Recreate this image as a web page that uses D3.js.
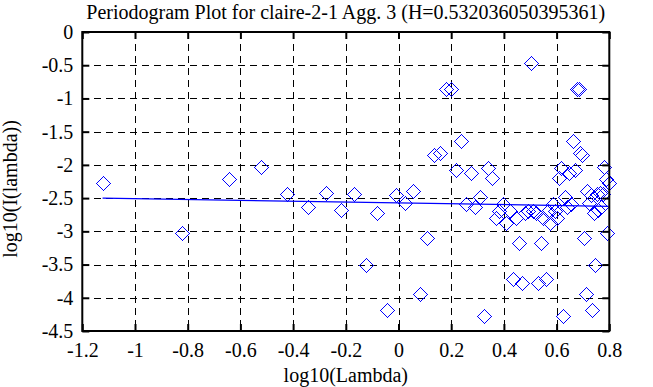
<!DOCTYPE html>
<html>
<head>
<meta charset="utf-8">
<script src="https://cdn.jsdelivr.net/npm/d3@7"></script>
<style>
  body { margin: 0; background: #fff; }
  svg text { font-family: "Liberation Serif", "DejaVu Serif", serif !important; fill: #000; }
</style>
</head>
<body>
<div id="chart"></div>
<script>
// --- data: log10 frequency vs log10 periodogram ---
const lambdaLog = [
  -1.123, -0.821, -0.645, -0.520, -0.424, -0.344, -0.277, -0.219, -0.168, -0.123,
  -0.081, -0.043, -0.009, 0.024, 0.054, 0.082, 0.108, 0.133, 0.156, 0.179,
  0.200, 0.220, 0.239, 0.258, 0.275, 0.292, 0.309, 0.325, 0.340, 0.355,
  0.369, 0.383, 0.396, 0.409, 0.422, 0.434, 0.446, 0.457, 0.469, 0.480,
  0.490, 0.501, 0.511, 0.521, 0.531, 0.540, 0.550, 0.559, 0.568, 0.576,
  0.585, 0.594, 0.602, 0.610, 0.618, 0.626, 0.633, 0.641, 0.648, 0.656,
  0.663, 0.670, 0.677, 0.684, 0.690, 0.697, 0.704, 0.710, 0.716, 0.723,
  0.729, 0.735, 0.741, 0.747, 0.753, 0.758, 0.764, 0.770, 0.775, 0.781,
  0.786, 0.791, 0.797
];
const periodLog = [
  -2.275, -3.02, -2.21, -2.03, -2.44, -2.63, -2.43, -2.68, -2.44, -3.50,
  -2.72, -4.18, -2.45, -2.57, -2.39, -3.94, -3.10, -1.85, -1.82, -0.86,
  -0.86, -2.07, -1.64, -2.59, -2.12, -2.64, -2.48, -4.28, -2.05, -2.20,
  -2.80, -2.70, -2.59, -2.88, -2.70, -3.72, -2.80, -3.18, -3.78, -2.72,
  -2.70, -0.47, -2.70, -2.72, -3.78, -3.18, -2.80, -3.72, -2.70, -2.88,
  -2.59, -2.70, -2.80, -2.20, -2.05, -4.28, -2.48, -2.64, -2.12, -2.59,
  -1.64, -2.07, -0.86, -0.86, -1.82, -1.85, -3.10, -3.94, -2.39, -2.57,
  -2.45, -4.18, -2.72, -3.50, -2.44, -2.68, -2.43, -2.63, -2.44, -2.03,
  -2.21, -3.02, -2.275
];
// least-squares fit drawn as a line between its two ends
const fitLambda = [-1.123, 0.797];
const fitPeriod = [-2.500, -2.623];

const xTicks = [-1.2, -1, -0.8, -0.6, -0.4, -0.2, 0, 0.2, 0.4, 0.6, 0.8];
const yTicks = [0, -0.5, -1, -1.5, -2, -2.5, -3, -3.5, -4, -4.5];

const titleText = "Periodogram Plot for claire-2-1 Agg. 3 (H=0.532036050395361)";
const xLabel = "log10(Lambda)";
const yLabel = "log10(I(lambda))";

// --- layout ---
const width = 653, height = 387;
const plot = { left: 82.3, right: 609.3, top: 32, bottom: 331 };
const blue = "#0000ff";
const serif = '"Liberation Serif", "DejaVu Serif", serif';

const svg = d3.select("#chart").append("svg")
  .attr("width", width).attr("height", height)
  .attr("viewBox", `0 0 ${width} ${height}`);

const x = d3.scaleLinear().domain([-1.2, 0.8]).range([plot.left, plot.right]);
const y = d3.scaleLinear().domain([-4.5, 0]).range([plot.bottom, plot.top]);

// dashed grid
const grid = svg.append("g").attr("class", "grid");
grid.selectAll("line.gx").data(xTicks.slice(1, -1)).join("line")
  .attr("x1", d => Math.round(x(d)) + 0.5).attr("x2", d => Math.round(x(d)) + 0.5)
  .attr("y1", plot.top).attr("y2", plot.bottom);
grid.selectAll("line.gy").data(yTicks.slice(1, -1)).join("line")
  .attr("y1", d => Math.round(y(d)) + 0.5).attr("y2", d => Math.round(y(d)) + 0.5)
  .attr("x1", plot.left).attr("x2", plot.right);
grid.selectAll("line")
  .attr("stroke", "#000").attr("stroke-width", 1)
  .attr("stroke-dasharray", "7,5").attr("shape-rendering", "crispEdges");

// fit line
svg.append("line")
  .attr("x1", x(fitLambda[0])).attr("y1", y(fitPeriod[0]))
  .attr("x2", x(fitLambda[1])).attr("y2", y(fitPeriod[1]))
  .attr("stroke", blue).attr("stroke-width", 1.3);

// diamonds
const r = 7;
svg.append("g").selectAll("path").data(lambdaLog).join("path")
  .attr("transform", (d, i) => `translate(${Math.round(x(d)) + 0.5},${Math.round(y(periodLog[i])) + 0.5})`)
  .attr("d", `M0,${-r}L${r},0L0,${r}L${-r},0Z`)
  .attr("fill", "none").attr("stroke", blue).attr("stroke-width", 1)
  .attr("shape-rendering", "crispEdges");

// inward ticks on all four sides
const tk = 7;
const axisStyle = g => {
  g.attr("font-family", serif).attr("font-size", 20);
  g.select(".domain").remove();
  g.selectAll(".tick line").attr("stroke", "#000").attr("stroke-width", 2);
  g.selectAll(".tick text").style("font-family", serif).style("font-size", "20px");
};
svg.append("g").attr("transform", `translate(0,${plot.bottom})`)
  .call(d3.axisBottom(x).tickValues(xTicks).tickSize(-tk).tickFormat(d => String(d)))
  .call(axisStyle)
  .call(g => g.selectAll("text").attr("dy", "0.71em").attr("y", 12));
svg.append("g").attr("transform", `translate(0,${plot.top})`)
  .call(d3.axisTop(x).tickValues(xTicks).tickSize(-tk).tickFormat(""))
  .call(axisStyle);
svg.append("g").attr("transform", `translate(${plot.left},0)`)
  .call(d3.axisLeft(y).tickValues(yTicks).tickSize(-tk).tickFormat(d => String(d)))
  .call(axisStyle)
  .call(g => g.selectAll("text").attr("x", -9));
svg.append("g").attr("transform", `translate(${plot.right},0)`)
  .call(d3.axisRight(y).tickValues(yTicks).tickSize(-tk).tickFormat(""))
  .call(axisStyle);

// frame
svg.append("rect")
  .attr("x", plot.left).attr("y", plot.top)
  .attr("width", plot.right - plot.left).attr("height", plot.bottom - plot.top)
  .attr("fill", "none").attr("stroke", "#000").attr("stroke-width", 2);

// titles
const label = (t) => svg.append("text")
  .attr("text-anchor", "middle")
  .style("font-family", serif).style("font-size", "20px")
  .text(t);
label(titleText).attr("x", (plot.left + plot.right) / 2).attr("y", 19);
label(xLabel).attr("x", (plot.left + plot.right) / 2).attr("y", 382);
label(yLabel).attr("transform", "translate(17,189) rotate(-90)");
</script>
</body>
</html>
